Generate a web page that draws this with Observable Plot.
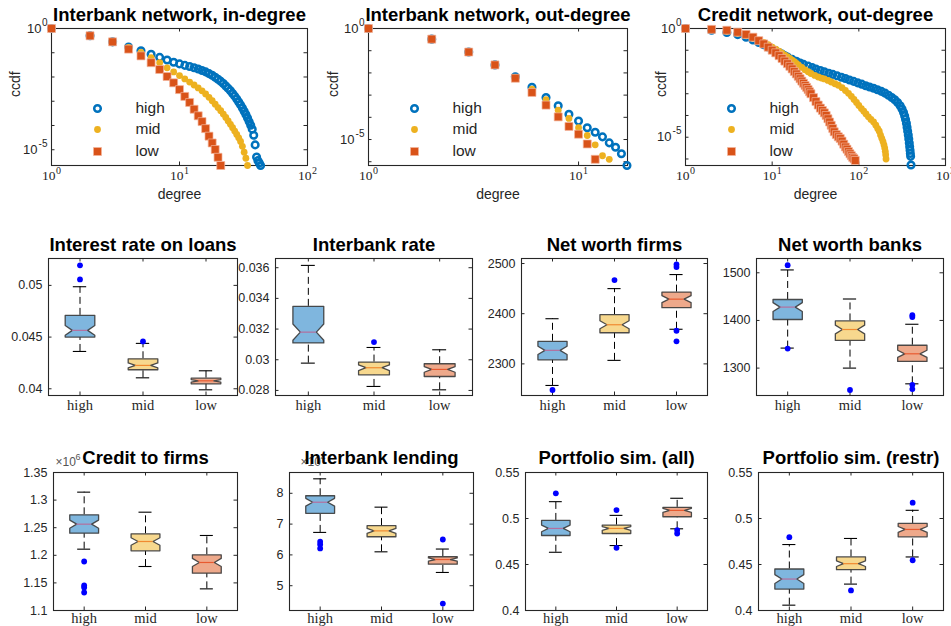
<!DOCTYPE html>
<html><head><meta charset="utf-8">
<script src="https://cdn.jsdelivr.net/npm/d3@7"></script>
<script src="https://cdn.jsdelivr.net/npm/@observablehq/plot@0.6"></script>
<style>
body{margin:0;background:#fff;}
#root{position:relative;width:951px;height:626px;overflow:hidden;background:#fff;}
.panel{position:absolute;}
</style></head><body><div id="root"></div>
<script>
// ---------- DATA ----------
const groups = ["high", "mid", "low"];

// Top row: log10(ccdf) by degree (degree = index + 1)
const inDegHigh = [0,-0.30,-0.55,-0.76,-0.92,-1.06,-1.19,-1.30,-1.39,-1.46,-1.52,-1.57,-1.62,-1.67,-1.73,-1.79,-1.86,-1.93,-2.01,-2.09,-2.18,-2.27,-2.37,-2.47,-2.57,-2.68,-2.79,-2.91,-3.03,-3.15,-3.28,-3.41,-3.55,-3.69,-3.84,-3.99,-4.15,-4.4,-4.8,-5.3,-5.45,-5.55,-5.65];
const inDegMid = [0,-0.30,-0.56,-0.78,-0.99,-1.2,-1.41,-1.62,-1.79,-1.94,-2.08,-2.21,-2.33,-2.45,-2.57,-2.70,-2.84,-2.98,-3.12,-3.26,-3.39,-3.53,-3.67,-3.81,-3.95,-4.09,-4.23,-4.37,-4.51,-4.66,-4.86,-5.1,-5.35,-5.65];
const inDegLow = [0,-0.30,-0.55,-0.85,-1.13,-1.41,-1.69,-1.98,-2.24,-2.52,-2.8,-3.05,-3.33,-3.6,-3.84,-4.13,-4.44,-4.72,-4.99,-5.31,-5.65];

const outDegHigh = [0,-0.48,-1.06,-1.64,-2.17,-2.65,-3.11,-3.48,-3.86,-4.17,-4.47,-4.67,-4.88,-5.15,-5.35,-5.64,-6.17];
const outDegMid = [0,-0.48,-1.06,-1.64,-2.2,-2.73,-3.2,-3.68,-4.05,-4.47,-4.82,-5.24,-5.73,-5.89];
const outDegLow = [0,-0.48,-1.06,-1.64,-2.24,-2.88,-3.45,-3.98,-4.41,-4.76,-5.2,-5.89];

// Credit network out-degree: degrees and log10(ccdf)
const creditHighDeg = [1,2,3,4,5,6,7,8,9,10,11,12,13,14,15,17,19,21,23,26,29,32,36,40,45,50,56,63,70,78,87,97,108,120,133,148,164,182,200,220,240,260,280,300,315,328,338,346,354,360,366,372,377,382,386,390,393,396,400];
const creditHighVal = [0,-0.08,-0.18,-0.28,-0.40,-0.53,-0.64,-0.75,-0.85,-0.95,-1.03,-1.11,-1.18,-1.25,-1.31,-1.42,-1.51,-1.59,-1.65,-1.73,-1.80,-1.86,-1.93,-1.99,-2.06,-2.11,-2.17,-2.24,-2.30,-2.37,-2.43,-2.50,-2.56,-2.63,-2.69,-2.75,-2.82,-2.89,-2.97,-3.07,-3.17,-3.28,-3.4,-3.55,-3.7,-3.86,-4.02,-4.18,-4.36,-4.54,-4.72,-4.9,-5.08,-5.26,-5.44,-5.6,-5.75,-5.88,-6.28];
const creditMidDeg = [1,2,3,4,5,6,7,8,9,10,11,12,13,14,15,16,17,18,19,20,22,24,26,28,31,34,37,40,44,48,53,58,64,70,76,82,88,94,100,107,114,121,129,138,148,157,165,172,178,184,190,195,199,202,204,206];
const creditMidVal = [0,-0.06,-0.13,-0.22,-0.33,-0.44,-0.54,-0.64,-0.74,-0.86,-0.95,-1.04,-1.13,-1.22,-1.30,-1.38,-1.46,-1.53,-1.6,-1.67,-1.79,-1.9,-1.99,-2.07,-2.16,-2.23,-2.28,-2.32,-2.39,-2.46,-2.54,-2.61,-2.72,-2.85,-2.98,-3.12,-3.26,-3.40,-3.54,-3.68,-3.80,-3.93,-4.06,-4.18,-4.3,-4.45,-4.6,-4.72,-4.9,-5.05,-5.2,-5.35,-5.5,-5.65,-5.8,-6.0];
const creditLowDeg = [1,2,3,4,5,6,7,8,9,10,11,12,13,14,15,16,17,18,19,20,21,22,23,24,25,26,27,28,30,32,34,36,38,40,42,44,46,48,50,52,55,58,61,64,67,70,73,76,79,82,85,88,91];
const creditLowVal = [0,-0.04,-0.08,-0.17,-0.27,-0.4,-0.56,-0.71,-0.86,-1.0,-1.12,-1.25,-1.38,-1.5,-1.62,-1.74,-1.86,-1.98,-2.09,-2.2,-2.31,-2.42,-2.52,-2.62,-2.71,-2.81,-2.91,-3.0,-3.18,-3.36,-3.52,-3.66,-3.77,-3.88,-4.0,-4.15,-4.3,-4.45,-4.6,-4.75,-4.88,-4.98,-5.06,-5.18,-5.32,-5.45,-5.55,-5.66,-5.76,-5.85,-5.93,-5.99,-6.07];

// Box plots: per group [lower whisker, Q1, median, Q3, upper whisker]; outliers per group
const loanRateBox = [[0.04361,0.0450,0.04565,0.0471,0.04987],[0.04106,0.04184,0.04226,0.0429,0.04439],[0.0399,0.04048,0.04077,0.04103,0.04174]];
const loanRateOut = [[0.05194,0.05058],[0.04458],[]];
const ibRateBox = [[0.02978,0.0311,0.0318,0.03348,0.03615],[0.02826,0.02902,0.02948,0.02985,0.0308],[0.02804,0.02891,0.02937,0.02974,0.03065]];
const ibRateOut = [[],[0.03115],[]];
const nwFirmsBox = [[2257,2308,2327,2345,2390],[2307,2362,2378,2398,2450],[2369,2412,2429,2443,2478]];
const nwFirmsOut = [[2248],[2467],[2498,2493,2366,2345]];
const nwBanksBox = [[1342,1402,1428,1444,1506],[1300,1358,1381,1399,1445],[1267,1314,1330,1348,1392]];
const nwBanksOut = [[1516,1341],[1254],[1411,1407,1265,1256]];
const creditBox = [[1.2111,1.2401,1.2564,1.2733,1.3144],[1.1797,1.2081,1.225,1.2389,1.2781],[1.1392,1.1676,1.187,1.2008,1.2359]]; // x10^6
const creditOut = [[1.1888,1.1453,1.1417,1.1326],[],[]];
const ibLendBox = [[6.73,7.35,7.71,7.92,8.47],[6.10,6.59,6.78,6.95,7.55],[5.43,5.70,5.85,5.94,6.19]]; // x10^4
const ibLendOut = [[6.43,6.34,6.21],[],[6.50,4.42]];
const simAllBox = [[0.4633,0.4815,0.4892,0.4979,0.5183],[0.4706,0.4837,0.4892,0.4928,0.5034],[0.4888,0.5019,0.5088,0.5121,0.522]];
const simAllOut = [[0.5274],[0.5092,0.4681],[0.4874,0.4837]];
const simRestrBox = [[0.4058,0.4233,0.4342,0.4451,0.4717],[0.4287,0.4444,0.4509,0.4582,0.4783],[0.4582,0.4801,0.4881,0.4946,0.5089]];
const simRestrOut = [[0.4797],[0.4218],[0.5172,0.4546]];

const loanRateTicks = [0.04, 0.045, 0.05];
const ibRateTicks = [0.028, 0.03, 0.032, 0.034, 0.036];
const nwFirmsTicks = [2300, 2400, 2500];
const nwBanksTicks = [1300, 1400, 1500];
const creditTicks = [1.1, 1.15, 1.2, 1.25, 1.3, 1.35];
const ibLendTicks = [5, 6, 7, 8];
const simTicks = [0.4, 0.45, 0.5, 0.55];

// ---------- STYLE ----------
const SANS = '"Liberation Sans", Arial, Helvetica, sans-serif';
const SERIF = '"Liberation Serif", "Times New Roman", serif';
const AX = "#262626";
const C_HIGH = "#0072BD", C_MID = "#EDB120", C_LOW = "#D95319";
const FILLS = ["#7fb6de", "#f7d88e", "#eea98b"];
const MEDS = ["#b46f9e", "#f08a30", "#e85a30"];
const MID = {lineAnchor: "middle"};

const root = document.getElementById("root");
function mount(svg, left, top, w, h) {
  const div = document.createElement("div");
  div.className = "panel";
  div.style.left = left + "px"; div.style.top = top + "px";
  div.style.width = w + "px"; div.style.height = h + "px";
  div.appendChild(svg);
  root.appendChild(div);
}
function frameTicks(pw, ph, xTicks, yTicks) {
  const t = 3.5;
  return [
    Plot.tickY(yTicks, {y: d => d, insetRight: pw - t, stroke: AX}),
    Plot.tickY(yTicks, {y: d => d, insetLeft: pw - t, stroke: AX}),
    Plot.tickX(xTicks, {x: d => d, insetTop: ph - t, stroke: AX}),
    Plot.tickX(xTicks, {x: d => d, insetBottom: ph - t, stroke: AX}),
    Plot.frame({stroke: AX, strokeWidth: 1.1})
  ];
}

// ---------- TOP ROW ----------
function ccdfPanel(cfg) {
  const {fx0, fx1, fy0, fy1, title, xDomain, xTicks, yMinLog, high, mid, low, ylabDx} = cfg;
  const ml = 56, mr = 8, mt = 30, mb = 45;
  const pw = fx1 - fx0, ph = fy1 - fy0;
  const W = pw + ml + mr, H = ph + mt + mb;
  const yTicks = d3.range(0, Math.floor(yMinLog), -1).map(k => 10 ** k);
  const legRows = [80, 101, 123];
  const legend = [
    Plot.dot([0], {frameAnchor: "top-left", dx: 46, dy: legRows[0], r: 3.3, stroke: C_HIGH, strokeWidth: 2.5, fill: "none"}),
    Plot.dot([0], {frameAnchor: "top-left", dx: 46, dy: legRows[1], r: 3.4, fill: C_MID}),
    Plot.dot([0], {frameAnchor: "top-left", dx: 46, dy: legRows[2], r: 4.5, symbol: "square", fill: C_LOW, stroke: "#f3b39a", strokeWidth: 0.7}),
    ...groups.map((g, i) => Plot.text([g], {...MID, frameAnchor: "top-left", dx: 84, dy: legRows[i], textAnchor: "start", fontSize: 15.5, fill: AX}))
  ];
  // y tick labels 10^0 and 10^-5 with real superscripts
  const yLabs = [{k: 0, sw: 6}, {k: -5, sw: 10}];
  const yLabMarks = yLabs.flatMap(({k, sw}) => [
    Plot.text([k], {...MID, y: d => 10 ** d, frameAnchor: "left", dx: -4 - sw, textAnchor: "end", text: () => "10", fontSize: 13, fill: AX}),
    Plot.text([k], {...MID, y: d => 10 ** d, frameAnchor: "left", dx: -4, dy: -6, textAnchor: "end", text: d => String(d), fontSize: 10, fill: AX})
  ]);
  const xLabMarks = [
    Plot.text(xTicks, {...MID, x: d => d, frameAnchor: "bottom", dy: 10, dx: 4, textAnchor: "end", text: () => "10", fontFamily: SERIF, fontSize: 13.5, fill: AX}),
    Plot.text(xTicks, {...MID, x: d => d, frameAnchor: "bottom", dy: 5, dx: 4.5, textAnchor: "start", text: d => String(Math.round(Math.log10(d))), fontFamily: SERIF, fontSize: 10, fill: AX})
  ];
  const svg = Plot.plot({
    width: W, height: H, marginLeft: ml, marginRight: mr, marginTop: mt, marginBottom: mb,
    style: {background: "transparent", overflow: "visible", fontFamily: SANS, maxWidth: "none"},
    x: {type: "log", domain: xDomain, axis: null},
    y: {type: "log", domain: [10 ** yMinLog, 1], axis: null},
    marks: [
      ...frameTicks(pw, ph, xTicks, yTicks),
      Plot.dot(high, {x: "d", y: "c", r: 3.3, stroke: C_HIGH, strokeWidth: 2.5, fill: "none"}),
      Plot.dot(mid, {x: "d", y: "c", r: 3.4, fill: C_MID}),
      Plot.dot(low, {x: "d", y: "c", r: 4.5, symbol: "square", fill: C_LOW, stroke: "#f3b39a", strokeWidth: 0.7}),
      ...legend,
      ...yLabMarks,
      ...xLabMarks,
      Plot.text(["degree"], {...MID, frameAnchor: "bottom", dy: 29, fontSize: 14, fill: AX}),
      Plot.text(["ccdf"], {...MID, frameAnchor: "left", dx: ylabDx, rotate: -90, fontSize: 14, fill: AX}),
      Plot.text([title], {...MID, frameAnchor: "top", dy: -13, fontWeight: "bold", fontSize: 18.5, fill: "black"})
    ]
  });
  mount(svg, fx0 - ml, fy0 - mt, W, H);
}
const toRows = vals => vals.map((v, i) => ({d: i + 1, c: 10 ** v}));
const toRows2 = (degs, vals) => degs.map((d, i) => ({d, c: 10 ** vals[i]}));

ccdfPanel({fx0: 51, fx1: 307, fy0: 28, fy1: 165, title: "Interbank network, in-degree", xDomain: [1, 100], xTicks: [1, 10, 100], yMinLog: -5.65, high: toRows(inDegHigh), mid: toRows(inDegMid), low: toRows(inDegLow), ylabDx: -36});
ccdfPanel({fx0: 368, fx1: 627, fy0: 28, fy1: 165, title: "Interbank network, out-degree", xDomain: [1, 17.1], xTicks: [1, 10], yMinLog: -6.17, high: toRows(outDegHigh), mid: toRows(outDegMid), low: toRows(outDegLow), ylabDx: -35});
ccdfPanel({fx0: 685, fx1: 945, fy0: 28, fy1: 165, title: "Credit network, out-degree", xDomain: [1, 1000], xTicks: [1, 10, 100, 1000], yMinLog: -6.3, high: toRows2(creditHighDeg, creditHighVal), mid: toRows2(creditMidDeg, creditMidVal), low: toRows2(creditLowDeg, creditLowVal), ylabDx: -24});

// ---------- BOX PLOTS ----------
const HW = 0.235, NW = 0.122, CAP = 0.106, NSAMP = 50;
function boxPanel(cfg) {
  const {fx0, fx1, fy0, fy1, title, domain, ticks, box, out, expPow, expDx, xlabDy, titleDy} = cfg;
  const ml = 62, mr = 8, mt = 36, mb = 28;
  const pw = fx1 - fx0, ph = fy1 - fy0;
  const W = pw + ml + mr, H = ph + mt + mb;
  const fmt = d => String(+d.toFixed(5));
  const marks = [...frameTicks(pw, ph, [1, 2, 3], ticks)];
  groups.forEach((g, i) => {
    const c = i + 1;
    const [lo, q1, med, q3, hi] = box[i];
    const nh = 1.57 * (q3 - q1) / Math.sqrt(NSAMP);
    const poly = [[c - HW, q1], [c - HW, med - nh], [c - NW, med], [c - HW, med + nh], [c - HW, q3],
                  [c + HW, q3], [c + HW, med + nh], [c + NW, med], [c + HW, med - nh], [c + HW, q1], [c - HW, q1]];
    marks.push(
      Plot.ruleX([box[i]], {x: () => c, y1: d => d[3], y2: d => d[4], stroke: "black", strokeWidth: 1, strokeDasharray: "7,4"}),
      Plot.ruleX([box[i]], {x: () => c, y1: d => d[0], y2: d => d[1], stroke: "black", strokeWidth: 1, strokeDasharray: "7,4"}),
      Plot.ruleY([lo, hi], {y: d => d, x1: () => c - CAP, x2: () => c + CAP, stroke: "black", strokeWidth: 1.1}),
      Plot.line(poly, {x: d => d[0], y: d => d[1], fill: FILLS[i], stroke: "#3a3a3a", strokeWidth: 1.3, strokeOpacity: 0.9}),
      Plot.ruleY([med], {y: d => d, x1: () => c - NW, x2: () => c + NW, stroke: MEDS[i], strokeWidth: 1.2}),
      Plot.dot(out[i], {x: () => c, y: d => d, r: 2.9, fill: "#0000ff"})
    );
  });
  marks.push(
    Plot.text(ticks, {...MID, y: d => d, frameAnchor: "left", dx: -6, textAnchor: "end", text: fmt, fontSize: 12.5, fill: AX}),
    Plot.text(groups, {...MID, x: (d, i) => i + 1, frameAnchor: "bottom", dy: xlabDy, fontFamily: SERIF, fontSize: 14.5, fill: AX})
  );
  if (expPow) marks.push(
    Plot.text(["×10"], {...MID, frameAnchor: "top-left", dx: expDx, dy: -10, textAnchor: "start", fontSize: 12, fill: "#555"}),
    Plot.text([expPow], {...MID, frameAnchor: "top-left", dx: expDx + 20, dy: -15, textAnchor: "start", fontSize: 9, fill: "#555"})
  );
  marks.push(Plot.text([title], {...MID, frameAnchor: "top", dy: titleDy, fontWeight: "bold", fontSize: 18.5, fill: "black"}));
  const svg = Plot.plot({
    width: W, height: H, marginLeft: ml, marginRight: mr, marginTop: mt, marginBottom: mb,
    style: {background: "transparent", overflow: "visible", fontFamily: SANS, maxWidth: "none"},
    x: {type: "linear", domain: [0.5, 3.5], axis: null},
    y: {type: "linear", domain, axis: null},
    marks
  });
  mount(svg, fx0 - ml, fy0 - mt, W, H);
}

const R2 = {fy0: 258, fy1: 395, xlabDy: 10, titleDy: -13};
const R3 = {fy0: 472, fy1: 610, xlabDy: 8, titleDy: -14};
boxPanel({...R2, fx0: 48, fx1: 237, title: "Interest rate on loans", domain: [0.03935, 0.0526], ticks: loanRateTicks, box: loanRateBox, out: loanRateOut});
boxPanel({...R2, fx0: 275, fx1: 472, title: "Interbank rate", domain: [0.02767, 0.0366], ticks: ibRateTicks, box: ibRateBox, out: ibRateOut});
boxPanel({...R2, fx0: 521, fx1: 707, title: "Net worth firms", domain: [2237, 2510], ticks: nwFirmsTicks, box: nwFirmsBox, out: nwFirmsOut});
boxPanel({...R2, fx0: 756, fx1: 943, title: "Net worth banks", domain: [1242.5, 1530], ticks: nwBanksTicks, box: nwBanksBox, out: nwBanksOut});
boxPanel({...R3, fx0: 53, fx1: 237, title: "Credit to firms", domain: [1.1, 1.35], ticks: creditTicks, box: creditBox, out: creditOut, expPow: "6", expDx: 2});
boxPanel({...R3, fx0: 289, fx1: 473, title: "Interbank lending", domain: [4.195, 8.675], ticks: ibLendTicks, box: ibLendBox, out: ibLendOut, expPow: "4", expDx: 11});
boxPanel({...R3, fx0: 525, fx1: 707, title: "Portfolio sim. (all)", domain: [0.4, 0.55], ticks: simTicks, box: simAllBox, out: simAllOut});
boxPanel({...R3, fx0: 758, fx1: 943, title: "Portfolio sim. (restr)", domain: [0.4, 0.55], ticks: simTicks, box: simRestrBox, out: simRestrOut});
</script></body></html>
